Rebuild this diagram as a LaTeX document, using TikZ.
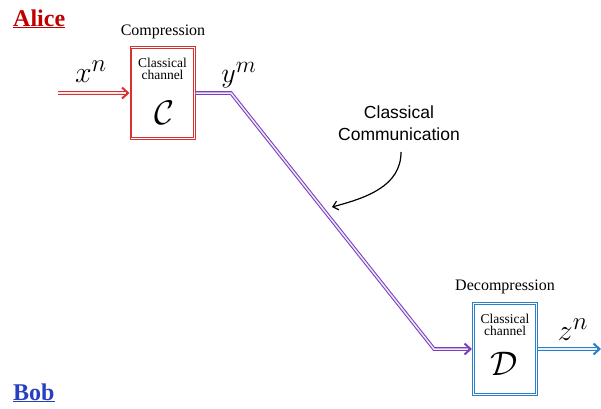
\documentclass[tikz,border=0pt]{standalone}
\usepackage{fontspec}
\setmainfont{Liberation Serif}
\newfontfamily\arialfont{Liberation Sans}
\usetikzlibrary{arrows.meta}
\definecolor{aliceRed}{HTML}{C00000}
\definecolor{boxRed}{HTML}{D93030}
\definecolor{linePurple}{HTML}{7A3FBE}
\definecolor{lineBlue}{HTML}{2A80CC}
\definecolor{bobBlue}{HTML}{2740C0}
\tikzset{
  fs/.style={font=\fontsize{#1}{#1}\selectfont},
  mathlbl/.style={font=\fontsize{24.88}{26}\selectfont, scale=#1, inner sep=0pt},
  chbox/.style={draw=#1, line width=1pt, minimum width=65pt, minimum height=93pt, inner sep=0pt},
  inbox/.style={draw=#1, line width=0.9pt},
  outerline/.style={draw=#1, line width=3.6pt},
  innerline/.style={draw=#1!12, line width=1.5pt},
  tipA/.style={-{Straight Barb[length=6pt,width=11pt,line width=2pt]}},
  party/.style={font=\fontsize{24}{24}\selectfont\bfseries, anchor=base west, inner sep=0pt}
}
\begin{document}
\begin{tikzpicture}[x=1pt,y=-1pt]
\useasboundingbox (0,0) rectangle (601,408);
% parties
\node[party, text=aliceRed] (alice) at (13,26) {\underline{Alice}};
\node[party, text=bobBlue] (bob) at (13,400) {\underline{Bob}};
% compression box
\node[chbox=boxRed] (C) at (162.5,93) {};
\draw[inbox=boxRed] ([xshift=2.4pt,yshift=-2.4pt]C.north west) rectangle ([xshift=-2.4pt,yshift=2.4pt]C.south east);
\node[fs=16] (comptxt) at (163,32) {Compression};
\node[fs=13.5, align=center, inner sep=0pt] (Ctxt) at (162.5,69) {Classical\\[-1pt]channel};
\node[mathlbl=1.37] (Cs) at (164,113) {$\mathcal{C}$};
% decompression box
\node[chbox=lineBlue] (D) at (505,349) {};
\draw[inbox=lineBlue] ([xshift=2.4pt,yshift=-2.4pt]D.north west) rectangle ([xshift=-2.4pt,yshift=2.4pt]D.south east);
\node[fs=16] (dectxt) at (505,287) {Decompression};
\node[fs=13.5, align=center, inner sep=0pt] (Dtxt) at (505,325) {Classical\\[-1pt]channel};
\node[mathlbl=1.37] (Ds) at (504,364) {$\mathcal{D}$};
% labels
\node[mathlbl=1.2] (xn) at (91,72) {$x^n$};
\node[mathlbl=1.13] (ym) at (239,75) {$y^m$};
\node[mathlbl=1.2] (zn) at (573,330) {$z^n$};
% coordinates
\coordinate (in) at (58,93);
\coordinate (k1) at (231,93);
\coordinate (k2) at (434,349);
\coordinate (out) at (601,349);
% connectors: outer coloured stroke with tip, lighter core
\draw[outerline=boxRed, tipA] (in) -- (C.west);
\draw[innerline=boxRed, shorten >=4pt] (in) -- (C.west);
\draw[outerline=linePurple, tipA, line join=miter] (C.east) -- (k1) -- (k2) -- (D.west);
\draw[innerline=linePurple, shorten >=4pt, line join=miter] (C.east) -- (k1) -- (k2) -- (D.west);
\draw[outerline=lineBlue, tipA] (D.east) -- (out);
\draw[innerline=lineBlue, shorten >=4pt] (D.east) -- (out);
% classical communication
\node[align=center, inner sep=0pt, font=\fontsize{17.5}{22}\selectfont\arialfont] (cc) at (399,123) {Classical\\Communication};
\coordinate (ccs) at (401,152);
\coordinate (cce) at (332,207);
\draw[line width=1.2pt, -{Straight Barb[length=5pt,width=9pt]}] (ccs) to[out=-90, in=15] (cce);
\end{tikzpicture}
\end{document}
